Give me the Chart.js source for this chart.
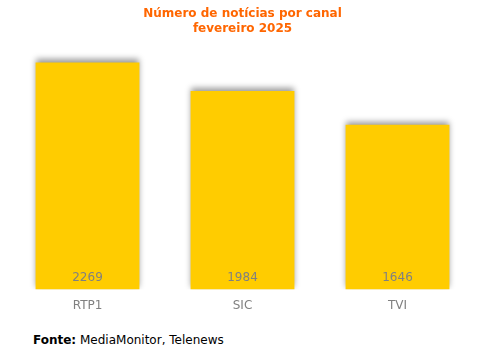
<!DOCTYPE html>
<html><head><meta charset="utf-8">
<script src="https://cdn.jsdelivr.net/npm/chart.js@4"></script>
<style>
html,body{margin:0;padding:0;background:#fff;}
#wrap{position:relative;width:486px;height:355px;}
#foot{position:absolute;left:33px;top:333px;font:12px "DejaVu Sans",Verdana,sans-serif;color:#000;}
</style></head><body>
<div id="wrap"><canvas id="c" width="486" height="314"></canvas>
<div id="foot"><b>Fonte:</b> MediaMonitor, Telenews</div></div>
<script>
const categories = ["RTP1","SIC","TVI"];
const values = [2269,1984,1646];
const titleLines = ["Número de notícias por canal","fevereiro 2025"];

const shadowPlugin = {
  id:'shadow',
  beforeDatasetDraw(chart){ const ctx=chart.ctx; ctx.save(); ctx.shadowColor='rgba(0,0,0,0.4)'; ctx.shadowBlur=6; ctx.shadowOffsetY=-3; },
  afterDatasetDraw(chart){ chart.ctx.restore(); }
};
const labelPlugin = {
  id:'vals',
  afterDatasetsDraw(chart){
    const ctx=chart.ctx; const meta=chart.getDatasetMeta(0);
    ctx.save(); ctx.font='12px "DejaVu Sans", Verdana, sans-serif'; ctx.fillStyle='#808080'; ctx.textAlign='center'; ctx.textBaseline='middle';
    meta.data.forEach((b,i)=>{ ctx.fillText(String(values[i]), b.x, chart.chartArea.bottom-12); });
    ctx.restore();
  }
};
new Chart(document.getElementById('c'),{
  type:'bar',
  data:{labels:categories,datasets:[{data:values,backgroundColor:'#FFCC00',barPercentage:0.67,categoryPercentage:1}]},
  options:{
    responsive:false,animation:false,
    layout:{padding:{left:10,right:11,top:0,bottom:0}},
    plugins:{legend:{display:false},tooltip:{enabled:false},
      title:{display:true,text:titleLines,color:'#FF6600',font:{family:'"DejaVu Sans", Verdana, sans-serif',size:12,weight:'bold',lineHeight:1.2},padding:{top:7,bottom:3}}},
    scales:{
      x:{grid:{display:false},border:{display:false},ticks:{color:'#808080',font:{family:'"DejaVu Sans", Verdana, sans-serif',size:12},padding:1}},
      y:{display:false,min:0,max:2505}
    }
  },
  plugins:[shadowPlugin,labelPlugin]
});
</script></body></html>
